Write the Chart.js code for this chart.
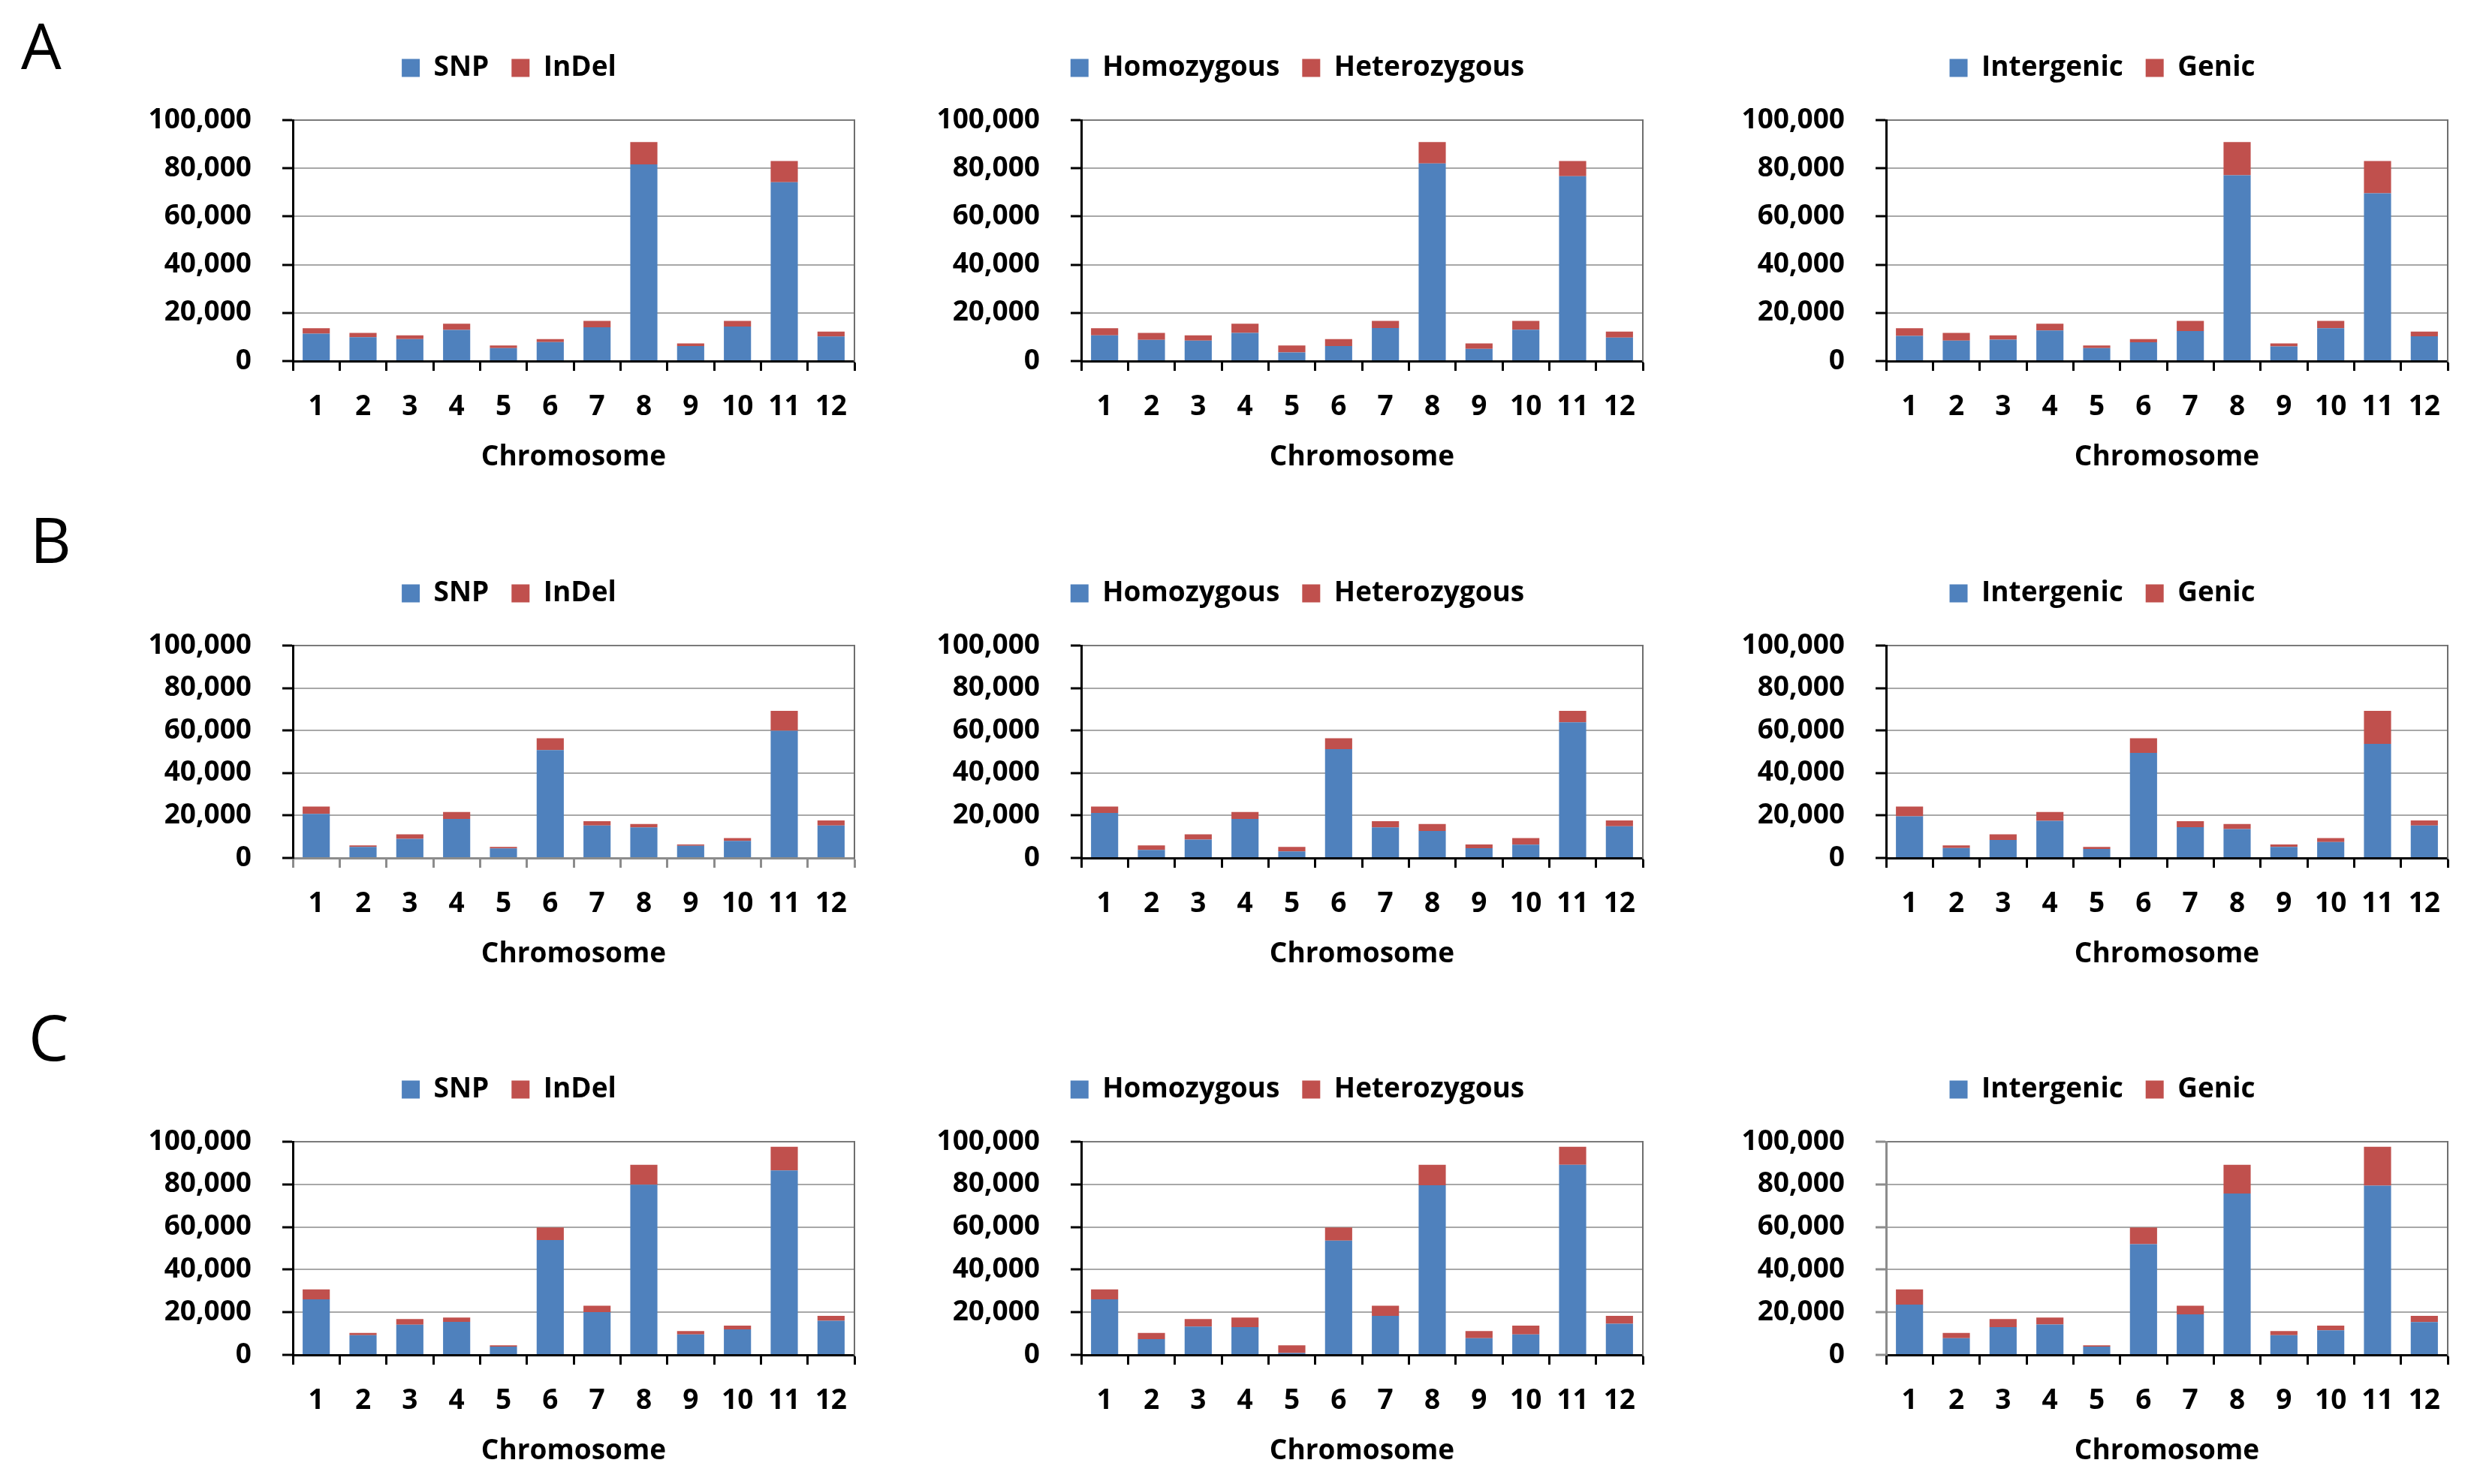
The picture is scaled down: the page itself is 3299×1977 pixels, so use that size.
<!DOCTYPE html>
<html>
<head>
<meta charset="utf-8">
<script src="https://cdn.jsdelivr.net/npm/chart.js@4"></script>
<style>
  body { margin: 0; background: #fff; }
  #page { position: relative; width: 3299px; height: 1977px; background: #fff; overflow: hidden; }
  canvas { position: absolute; }
  .tag { position: absolute; font: 400 85px 'Open Sans', sans-serif; line-height: 1; color: #000; }
</style>
</head>
<body>
<div id="page">
  <div class="tag" style="left:28px; top:17px;">A</div>
  <div class="tag" style="left:40px; top:675px;">B</div>
  <div class="tag" style="left:38px; top:1338px;">C</div>
</div>
<script>
// 染色体编号
const chromosomes = ['1', '2', '3', '4', '5', '6', '7', '8', '9', '10', '11', '12'];

// A 组
const aSnp = [11400, 9900, 9100, 12900, 5400, 7900, 14000, 81600, 6200, 14300, 74200, 10200];
const aIndel = [2200, 1800, 1600, 2600, 1100, 1200, 2700, 9300, 1100, 2400, 8800, 2000];
const aHomo = [10700, 8800, 8500, 11700, 3600, 6200, 13700, 82000, 5100, 13000, 76700, 9700];
const aHetero = [2900, 2900, 2200, 3800, 2900, 2900, 3000, 8900, 2200, 3700, 6300, 2500];
const aInter = [10400, 8500, 8900, 12700, 5400, 7800, 12500, 77100, 6100, 13600, 69600, 10300];
const aGenic = [3200, 3200, 1800, 2800, 1100, 1300, 4200, 13800, 1200, 3100, 13400, 1900];

// B 组
const bSnp = [20800, 5200, 9000, 18400, 4500, 50800, 15300, 14400, 5700, 8000, 59900, 15300];
const bIndel = [3400, 700, 2100, 3200, 700, 5600, 2000, 1600, 700, 1400, 9400, 2400];
const bHomo = [21200, 3800, 8700, 18400, 3100, 51200, 14400, 12700, 4600, 6300, 63900, 14900];
const bHetero = [3000, 2100, 2400, 3200, 2100, 5200, 2900, 3300, 1800, 3100, 5400, 2800];
const bInter = [19600, 4700, 8500, 17500, 4200, 49500, 14500, 13600, 5200, 7500, 53700, 15300];
const bGenic = [4600, 1200, 2600, 4100, 1000, 6900, 2800, 2400, 1200, 1900, 15600, 2400];

// C 组
const cSnp = [26100, 9200, 14200, 15500, 3900, 53900, 20100, 79800, 9600, 12000, 86500, 16000];
const cIndel = [4600, 1100, 2600, 2000, 600, 5900, 3000, 9400, 1600, 1700, 11100, 2300];
const cHomo = [26100, 7400, 13300, 13000, 900, 53600, 18300, 79600, 7800, 9600, 89200, 14600];
const cHetero = [4600, 2900, 3500, 4500, 3600, 6200, 4800, 9600, 3400, 4100, 8400, 3700];
const cInter = [23600, 7800, 13000, 14300, 3900, 51900, 19000, 75700, 9200, 11500, 79400, 15400];
const cGenic = [7100, 2500, 3800, 3200, 600, 7900, 4100, 13500, 2000, 2200, 18200, 2900];

const yMax = 100000;
const yStep = 20000;

const blue = '#4F81BD';
const red = '#C0504D';

Chart.defaults.font.family = "'Open Sans', sans-serif";
Chart.defaults.font.weight = 'bold';
Chart.defaults.font.size = 37;
Chart.defaults.color = '#000';

// 版面位置
const colLeft = [390, 1440, 2512];
const plotW = 748;
const rowTop = [160, 860, 1521];
const rowH = [321, 283, 284];
const yAxisW = 200, rightW = 28, legendH = 118, xAxisH = 160;

// 每个面板: [数据1, 数据2, 标签1, 标签2, x轴颜色, y轴颜色]
const panels = [
    [aSnp, aIndel, 'SNP', 'InDel', '#000', '#000'],
    [aHomo, aHetero, 'Homozygous', 'Heterozygous', '#000', '#000'],
    [aInter, aGenic, 'Intergenic', 'Genic', '#000', '#000'],
    [bSnp, bIndel, 'SNP', 'InDel', '#8c8c8c', '#000'],
    [bHomo, bHetero, 'Homozygous', 'Heterozygous', '#000', '#000'],
    [bInter, bGenic, 'Intergenic', 'Genic', '#000', '#000'],
    [cSnp, cIndel, 'SNP', 'InDel', '#000', '#000'],
    [cHomo, cHetero, 'Homozygous', 'Heterozygous', '#000', '#000'],
    [cInter, cGenic, 'Intergenic', 'Genic', '#000', '#8c8c8c'],
];

// 图例与图表之间的固定高度
const legendFix = {
    id: 'legendFix',
    beforeInit(chart) {
        const fit = chart.legend.fit;
        chart.legend.fit = function () {
            fit.bind(chart.legend)();
            this.height = legendH;
        };
    },
};

const page = document.getElementById('page');

panels.forEach((p, i) => {
    const row = Math.floor(i / 3), col = i % 3;
    const canvas = document.createElement('canvas');
    canvas.width = yAxisW + plotW + rightW;
    canvas.height = legendH + rowH[row] + xAxisH;
    canvas.style.left = (colLeft[col] - yAxisW) + 'px';
    canvas.style.top = (rowTop[row] - legendH) + 'px';
    page.appendChild(canvas);

    new Chart(canvas.getContext('2d'), {
        type: 'bar',
        data: {
            labels: chromosomes,
            datasets: [
                { label: p[2], data: p[0], backgroundColor: blue, barPercentage: 0.58, categoryPercentage: 1.0 },
                { label: p[3], data: p[1], backgroundColor: red, barPercentage: 0.58, categoryPercentage: 1.0 },
            ],
        },
        options: {
            responsive: false,
            animation: false,
            layout: { padding: 0 },
            plugins: {
                legend: {
                    position: 'top',
                    labels: { boxWidth: 24, boxHeight: 24, padding: 30, color: '#000' },
                },
                tooltip: { enabled: false },
            },
            scales: {
                x: {
                    stacked: true,
                    afterFit: s => { s.height = xAxisH; },
                    grid: { drawOnChartArea: false, tickLength: 13, tickWidth: 3, tickColor: p[4], offset: true },
                    border: { color: p[4], width: 3 },
                    ticks: { padding: 26, maxRotation: 0, autoSkip: false },
                    title: { display: true, text: 'Chromosome', padding: { top: 0, bottom: 9 } },
                },
                y: {
                    stacked: true,
                    min: 0,
                    max: yMax,
                    afterFit: s => { s.width = yAxisW; },
                    ticks: { stepSize: yStep, padding: 41, callback: v => v.toLocaleString('en-US') },
                    grid: {
                        color: c => (c.tick && c.tick.value === yMax ? '#7a7a7a' : '#a8a8a8'),
                        lineWidth: 2,
                        tickLength: 14,
                        tickWidth: 3,
                        tickColor: p[5],
                    },
                    border: { color: p[5], width: 3 },
                },
                y2: {
                    position: 'right',
                    min: 0,
                    max: yMax,
                    afterFit: s => { s.width = rightW; },
                    ticks: { display: false },
                    grid: { drawOnChartArea: false, drawTicks: false },
                    border: { color: '#6e6e6e', width: 2 },
                },
            },
        },
        plugins: [legendFix],
    });
});
</script>
</body>
</html>
